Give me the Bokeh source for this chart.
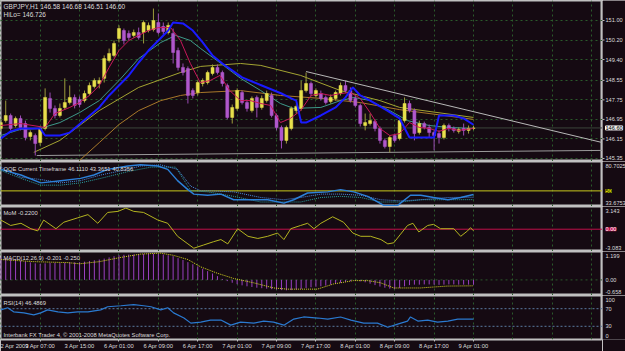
import numpy as np
from bokeh.plotting import figure
from bokeh.layouts import column, row
from bokeh.models import Range1d, FixedTicker, Label, LinearAxis, ColumnDataSource
from bokeh.embed import file_html
from bokeh.resources import INLINE

# ---------------- data ----------------
opens = [146.58,146.90,147.11,146.70,146.99,146.78,146.25,146.29,146.00,146.58,
         147.81,147.40,147.11,147.44,147.64,147.85,147.77,147.72,148.01,148.30,
         148.42,148.63,149.36,149.57,150.26,150.59,150.47,150.39,150.51,150.51,
         150.59,150.63,150.92,150.76,150.51,150.47,149.77,149.08,149.03,148.13,
         148.05,148.42,148.46,148.83,149.08,148.87,148.34,147.03,147.40,148.05,
         147.64,147.31,147.85,147.44,147.72,147.93,147.11,146.62,146.09,146.58,
         147.31,147.40,148.13,148.42,147.93,148.01,147.85,147.68,147.81,148.01,
         148.34,148.13,147.81,147.52,146.70,146.78,146.86,146.58,146.09,145.84,
         146.29,146.17,146.90,147.60,147.31,146.41,146.78,146.62,146.41,146.37,
         146.21,146.70,146.58,146.46,146.58,146.50,146.58]
highs = [146.99,147.72,147.19,147.07,147.11,146.90,146.50,146.37,146.66,148.22,
         148.05,147.52,147.60,148.63,148.34,147.97,147.89,148.13,148.46,148.63,
         148.67,149.57,149.85,150.18,150.80,150.67,150.59,150.63,150.71,151.00,
         150.92,151.49,151.29,150.92,150.92,150.67,149.89,149.24,149.12,148.22,
         148.54,148.63,148.95,149.20,149.20,148.95,148.42,147.56,148.22,148.13,
         147.72,147.89,147.93,147.93,148.13,148.05,147.19,146.70,146.70,147.48,
         147.56,148.54,148.87,148.50,148.22,148.13,147.93,147.97,148.13,148.46,
         148.54,148.26,147.93,147.60,147.19,147.19,146.95,146.66,146.17,146.29,
         146.37,146.99,147.85,147.72,147.40,146.90,146.86,146.74,146.50,146.50,
         146.78,146.78,146.66,146.62,146.78,146.70,146.68]
lows = [146.46,146.82,146.50,146.62,146.50,146.09,146.09,145.47,145.88,146.50,
        147.23,146.99,147.03,147.35,147.56,147.40,147.44,147.64,147.93,148.22,
        148.22,148.46,149.28,149.49,150.10,150.02,150.18,150.30,150.22,150.06,
        150.51,150.55,150.43,150.43,150.43,149.24,148.95,148.75,147.60,147.81,
        147.93,148.30,148.38,148.75,148.79,148.30,146.95,146.78,147.31,147.56,
        147.27,147.23,147.03,147.35,147.64,147.03,146.50,145.76,145.96,146.50,
        147.19,147.31,148.05,147.89,147.85,147.72,147.56,147.60,147.72,147.93,
        148.05,147.64,147.44,146.66,146.50,146.70,146.46,145.96,145.76,145.60,
        146.00,146.09,146.82,147.23,146.09,146.33,146.54,146.21,145.68,145.96,
        146.13,146.46,146.41,146.37,146.29,146.37,146.51]
closes = [146.82,147.11,146.58,146.99,146.62,146.21,146.41,145.96,146.58,147.85,
          147.40,147.11,147.40,147.64,147.85,147.52,147.56,148.01,148.34,148.54,
          148.54,149.44,149.65,150.06,150.67,150.18,150.30,150.51,150.30,150.92,
          150.80,151.00,150.51,150.55,150.80,149.69,149.08,148.87,147.93,147.93,
          148.46,148.54,148.87,149.08,148.87,148.42,147.03,147.44,148.13,147.64,
          147.40,147.81,147.44,147.81,148.01,147.11,146.62,146.09,146.62,147.40,
          147.48,148.13,148.42,148.01,148.13,147.81,147.64,147.85,148.05,148.34,
          148.13,147.72,147.52,146.78,146.82,146.90,146.58,146.09,145.84,146.21,
          146.09,146.90,147.60,147.31,146.37,146.78,146.62,146.41,146.29,146.21,
          146.70,146.58,146.50,146.54,146.50,146.58,146.60]

hilo_x = [0,2,4,8,9,12,14,20,22,24,26,28,30,32,34,35,37,39,41,43,45,49,53,57,59,60,61,62,65,68,70,71.5,73,75,78.5,81,83,88,89,92,94,96]
hilo_v = [146.17,146.46,146.58,146.58,146.29,146.29,146.41,147.44,147.93,148.34,148.75,149.28,149.77,150.18,150.59,150.92,150.88,150.59,150.10,149.57,149.24,148.67,148.34,148.01,147.81,147.72,146.82,146.82,147.11,147.44,147.85,148.26,147.93,147.72,147.31,146.99,146.21,146.21,147.11,147.11,146.99,146.73]
red_x = [0,4,9,11,14,16,18,20,22,24,26,28,30,32,34.5,36.5,38.5,40.5,42.5,44.5,46.5,48.7,50.7,52.8,54.8,56.8,58.8,60.9,63,65,67,69,71,73,75,77,79,81,83,85,87,89,91,93,96]
red_v = [146.70,146.78,146.62,147.19,147.44,147.64,147.93,148.34,149.08,149.77,150.18,150.39,150.59,150.71,150.71,150.18,149.24,148.46,148.54,148.75,148.13,147.72,147.72,147.60,147.52,146.82,146.99,147.31,147.93,148.01,147.93,148.01,148.05,147.81,147.23,146.58,146.29,146.37,146.82,146.62,146.58,146.46,146.58,146.50,146.58]
teal_x = [0,4,8,12,16,20,24,28,32.5,35.5,38.5,40.6,44.7,48.7,52.8,56.8,59.5,65,69,71.7,75,79,82.6,87,91,96]
teal_v = [146.29,146.54,146.58,146.82,147.23,147.72,148.54,149.44,150.10,150.39,150.18,149.85,149.24,148.63,148.13,147.60,147.40,147.44,147.72,147.85,147.72,147.31,146.90,146.70,146.62,146.58]
olive_x = [6.7,12,20,28,36.5,40.6,48.7,52.8,60.9,69,77,81,96]
olive_v = [145.60,146.09,147.31,148.26,148.87,149.12,149.24,149.16,148.75,148.13,147.72,147.44,147.03]
brown_x = [16,20,24,28,32.5,36.5,40.6,48.7,56.8,65,73,81,96]
brown_v = [145.27,146.00,146.74,147.31,147.72,147.93,148.05,148.13,147.93,147.81,147.64,147.35,146.95]
trend_x = [62, 122.2]
trend_v = [148.91, 146.00]
support_x = [7.3, 122.2]
support_v = [145.47, 145.68]
bid_price = 146.60

price_ticks = [151.00, 150.20, 149.40, 148.55, 147.75, 146.95, 146.15, 145.35]
price_labels = ["151.00", "150.20", "149.40", "148.55", "147.75", "146.95", "146.15", "145.35"]

qqe_x = [0,4.1,8.1,12.2,16.2,18.9,21.7,25.8,28.4,31.9,33.9,35.9,38,39.2,42,44.7,47.3,51.4,54.2,57.5,59.5,62.3,66.4,69,71.7,74.5,77.8,80.6,83.2,85.3,87.9,90.8,93.4,96]
qqe_v = [72.47,66.6,58.36,60.71,63.07,66.6,72.47,76.0,77.18,76.0,72.47,60.71,51.31,46.61,45.43,46.61,40.73,40.73,40.73,37.2,40.73,47.78,48.96,51.31,48.96,44.26,34.85,34.85,45.43,45.43,43.08,40.73,43.08,46.11]
qqe2_x = [0,4.1,8.1,12.2,16.2,20.3,25.8,28.4,32.5,35.9,38.6,40.6,42,47.3,52.8,57.5,60.9,65,69,73.1,77.2,81.2,85.3,90.8,96]
qqe2_v = [74.82,64.24,61.89,58.36,60.71,66.6,72.47,76.0,77.18,72.47,54.84,50.13,50.13,48.96,43.08,40.73,43.08,46.61,46.61,45.43,40.73,39.55,40.73,43.08,43.37]
qqe3_x = [0,4.1,8.1,12.2,16.2,20.3,25.8,30.5,35.5,38.6,42,47.3,52.8,57.5,60.9,65,69,73.1,77.2,81.2,85.3,90.8,96]
qqe3_v = [71.3,63.07,56.01,56.01,58.36,63.07,70.12,74.82,74.82,50.13,48.96,44.26,38.38,38.38,38.38,43.08,44.26,43.08,38.38,38.38,40.73,40.73,40.84]

mom_x = [0,2,4.1,6.1,7.5,8.7,11.2,12.8,15.6,17.7,19.7,21.7,23.8,25.4,27,29,31.9,33.9,35.9,38,39.2,41.2,43.2,44.7,46.1,48.1,50.2,52.2,54.2,56.2,57.5,58.9,60.9,62.3,63.6,65,67.4,69.6,71.5,73.1,75.1,77.2,78.6,79.8,81.2,82.6,83.7,84.9,86.7,87.9,89.3,92,93.4,94.8,95.4,96]
mom_v = [1.27,0.52,0.82,0.07,-0.23,1.27,0.07,0.97,1.57,2.02,0.82,2.32,2.47,2.92,2.47,2.32,1.27,0.82,-0.98,-2.03,-2.63,-2.18,-1.73,-1.43,-2.03,0.07,-0.98,-1.28,-0.98,-0.53,-1.43,0.07,0.52,0.82,0.07,0.82,1.72,0.97,-0.53,-0.98,-0.98,-1.43,-2.03,-1.88,-0.68,0.52,0.82,-0.38,0.52,0.67,0.07,0.07,-0.98,-0.23,0.22,-0.22]

macd_main = [0.95,0.93,0.90,0.86,0.82,0.78,0.74,0.70,0.68,0.70,
             0.72,0.72,0.71,0.72,0.74,0.74,0.75,0.77,0.80,0.83,
             0.86,0.90,0.95,1.00,1.04,1.06,1.07,1.07,1.08,1.09,
             1.10,1.10,1.09,1.07,1.04,1.00,0.92,0.84,0.75,0.66,
             0.57,0.47,0.37,0.27,0.16,0.04,-0.05,-0.12,-0.18,-0.23,
             -0.27,-0.30,-0.33,-0.35,-0.37,-0.39,-0.41,-0.43,-0.44,-0.43,
             -0.41,-0.38,-0.34,-0.31,-0.29,-0.27,-0.24,-0.20,-0.16,-0.12,
             -0.08,-0.05,-0.04,-0.06,-0.10,-0.16,-0.22,-0.28,-0.33,-0.37,
             -0.38,-0.34,-0.27,-0.22,-0.20,-0.20,-0.19,-0.19,-0.20,-0.21,
             -0.20,-0.19,-0.19,-0.20,-0.20,-0.20,-0.201]
sig_x = [0,6.7,13.6,16,20,24.4,28.4,32.5,35,38,40.6,44,47.3,51.3,55.4,58.2,62.3,64.3,67.6,71.6,74.5,77.1,79.8,82.6,85.2,87.9,90.7,96]
sig_v = [0.86,0.77,0.73,0.68,0.77,0.95,1.09,1.13,1.04,0.86,0.55,0.28,0.06,-0.12,-0.34,-0.39,-0.39,-0.39,-0.17,-0.03,-0.03,-0.12,-0.34,-0.34,-0.34,-0.30,-0.26,-0.25]

rsi_x = [0,1.4,2.6,4.7,6.7,8.1,9.5,11.6,13.6,15.6,17.7,20.3,21.7,24.4,27,29,30.5,32.5,33.9,35.1,37.2,38.6,40.6,42.6,44.7,46.7,48.7,51.4,53.4,55.4,57.5,59.5,61.5,64.4,66.4,69,71.1,73.7,76.5,78.6,80.6,82.6,83.2,84.7,86.7,88.7,90.8,92.8,96]
rsi_v = [67.4,72.1,62.8,60.5,55.8,60.5,67.4,62.8,60.5,62.8,62.8,67.4,74.4,76.7,79.1,76.7,74.4,67.4,72.1,60.5,48.8,37.2,39.5,44.2,44.2,32.6,39.5,37.2,41.9,39.5,32.6,46.5,51.2,48.8,46.5,51.2,44.2,37.2,37.2,27.9,34.9,41.9,51.2,41.9,44.2,39.5,41.9,46.5,46.49]

time_ticks = [0, 8, 16, 24, 32, 40, 48, 56, 64, 72, 80, 88, 96]
grid_ticks = [0, 8, 16, 24, 32, 40, 48, 56, 64, 72, 80, 88, 96, 104, 112, 120]
time_labels = ["2 Apr 2009", "3 Apr 07:00", "3 Apr 15:00", "6 Apr 01:00", "6 Apr 09:00",
               "6 Apr 17:00", "7 Apr 01:00", "7 Apr 09:00", "7 Apr 17:00", "8 Apr 01:00",
               "8 Apr 09:00", "8 Apr 17:00", "9 Apr 01:00"]

# ---------------- style ----------------
PW = 602      # plotting area width
LW = 23       # right price-scale width
BG = "#150a12"
FRAME = "#c0c0c0"
GRID = "#2b5a2b"
TXT = "#dcdcdc"
FONT = "Liberation Sans"
FS_T = "6.5px"
FS = "5.8px"
FS_R = "5.6px"

xr = Range1d(-0.06, 122.2)


def mkpanel(h, yr, top=0, bottom=0):
    p = figure(width=PW, height=h, x_range=xr, y_range=yr,
               output_backend="svg", toolbar_location=None,
               x_axis_location=None, y_axis_location=None,
               min_border_left=0, min_border_right=0,
               min_border_top=top, min_border_bottom=bottom,
               background_fill_color=BG, border_fill_color=BG,
               outline_line_color=FRAME, outline_line_width=2)
    p.xgrid.ticker = FixedTicker(ticks=grid_ticks)
    p.xgrid.grid_line_color = GRID
    p.xgrid.grid_line_dash = "2 3"
    p.ygrid.visible = False
    return p


def mkscale(h, yr, top=0, bottom=0):
    s = figure(width=LW, height=h, x_range=Range1d(0, LW), y_range=yr,
               output_backend="svg", toolbar_location=None,
               x_axis_location=None, y_axis_location=None,
               min_border_left=0, min_border_right=0,
               min_border_top=top, min_border_bottom=bottom,
               background_fill_color=BG, border_fill_color=BG,
               outline_line_color=None)
    s.xgrid.visible = False
    s.ygrid.visible = False
    return s


def rlabel(s, yv, text, baseline="middle", yoff=0, color=TXT, **kw):
    s.add_layout(Label(x=3, y=yv, text=text, text_font=FONT, text_font_size=FS_R,
                       text_color=color, text_baseline=baseline, y_offset=yoff, **kw))


def tlabel(p, xs, ys, text, size=FS, color=TXT):
    p.add_layout(Label(x=xs, y=ys, x_units="screen", y_units="screen", text=text,
                       text_font=FONT, text_font_size=size, text_color=color,
                       text_baseline="middle"))


# ---------------- main price panel ----------------
yr1 = Range1d(145.226, 151.819)
p1 = mkpanel(161, yr1)
s1 = mkscale(161, yr1)
p1.ygrid.visible = True
p1.ygrid.ticker = FixedTicker(ticks=price_ticks)
p1.ygrid.grid_line_color = GRID
p1.ygrid.grid_line_dash = "2 3"

idx = np.arange(len(opens))
o = np.array(opens); c = np.array(closes); hi = np.array(highs); lo = np.array(lows)
up = c >= o
src_up = ColumnDataSource(dict(x=idx[up], top=c[up], bottom=o[up], h=hi[up], l=lo[up]))
src_dn = ColumnDataSource(dict(x=idx[~up], top=o[~up], bottom=c[~up], h=hi[~up], l=lo[~up]))

p1.line(support_x, support_v, line_color="#9a9a9a", line_width=1)
p1.line([xr.start, xr.end], [bid_price, bid_price], line_color="#3c463c", line_width=1)
p1.line(brown_x, brown_v, line_color="#a8782a", line_width=1)
p1.line(olive_x, olive_v, line_color="#a4a432", line_width=1)
p1.line(teal_x, teal_v, line_color="#3e9a8a", line_width=1)

p1.segment(x0="x", y0="l", x1="x", y1="h", source=src_up, line_color="#9c9c3c", line_width=1)
p1.segment(x0="x", y0="l", x1="x", y1="h", source=src_dn, line_color="#9a4cb4", line_width=1)
p1.vbar(x="x", width=0.62, top="top", bottom="bottom", source=src_up,
        fill_color="#e8e04c", line_color="#e8e04c", line_width=0.5)
p1.vbar(x="x", width=0.62, top="top", bottom="bottom", source=src_dn,
        fill_color="#b058cc", line_color="#b058cc", line_width=0.5)

p1.line(red_x, red_v, line_color="#c8185a", line_width=1)
p1.line(hilo_x, hilo_v, line_color="#1a1aff", line_width=2)
p1.line(trend_x, trend_v, line_color="#b8b8b8", line_width=1)

s1.segment(x0=0, y0=price_ticks, x1=2, y1=price_ticks, line_color=FRAME, line_width=1)
for t, s in zip(price_ticks, price_labels):
    rlabel(s1, t, s)
rlabel(s1, bid_price, "146.60", color="#000000", background_fill_color="#e6e6e6",
       border_line_color="#ffffff", padding=0)
tlabel(p1, 3, 155, "GBPJPY,H1  146.58 146.68 146.51 146.60", size=FS_T)
tlabel(p1, 3, 147, "HiLo= 146.726", size=FS_T)

# ---------------- QQE ----------------
yr2 = Range1d(33.6753, 80.7025)
p2 = mkpanel(45, yr2)
s2 = mkscale(45, yr2)
p2.line([xr.start, xr.end], [50, 50], line_color="#c8c81e", line_width=1)
p2.line(qqe3_x, qqe3_v, line_color="#2aa0a0", line_width=1, line_dash="1 1")
p2.line(qqe2_x, qqe2_v, line_color="#4a8ce0", line_width=1, line_dash="1 1")
p2.line(qqe_x, qqe_v, line_color="#2c80d8", line_width=1.5)
tlabel(p2, 3, 38, "QQE Current Timeframe 46.1110 43.3651 40.8356")
rlabel(s2, 80.7025, "80.7025", baseline="top", yoff=-2)
rlabel(s2, 50, "50", color="#000000", background_fill_color="#d8d800", padding=0)
rlabel(s2, 33.6753, "33.6753", baseline="bottom", yoff=2)

# ---------------- MoM ----------------
yr3 = Range1d(-3.083, 3.143)
p3 = mkpanel(45, yr3)
s3 = mkscale(45, yr3)
p3.line([xr.start, xr.end], [0, 0], line_color="#c0104a", line_width=1)
p3.line(mom_x, mom_v, line_color="#b4b420", line_width=1)
tlabel(p3, 3, 39, "MoM -0.2200")
rlabel(s3, 3.143, "3.143", baseline="top", yoff=-2)
rlabel(s3, 0, "0.00", color="#ffffff", background_fill_color="#c0104a", padding=0)
rlabel(s3, -3.083, "-3.083", baseline="bottom", yoff=2)

# ---------------- MACD ----------------
yr4 = Range1d(-0.658, 1.199)
p4 = mkpanel(44, yr4)
s4 = mkscale(44, yr4)
p4.line([xr.start, xr.end], [0, 0], line_color=GRID, line_width=1, line_dash="2 3")
p4.segment(x0=idx, y0=np.zeros(len(idx)), x1=idx, y1=macd_main, line_color="#9a40c0", line_width=1)
p4.line(sig_x, sig_v, line_color="#d8d820", line_width=1, line_dash="1 1")
tlabel(p4, 3, 38, "MACD(12,26,9) -0.201 -0.250")
rlabel(s4, 1.199, "1.199", baseline="top", yoff=-2)
rlabel(s4, 0, "0.00")
rlabel(s4, -0.658, "-0.658", baseline="bottom", yoff=2)

# ---------------- RSI ----------------
yr5 = Range1d(0, 100)
p5 = mkpanel(56, yr5, top=0, bottom=12)
s5 = mkscale(56, yr5, top=0, bottom=12)
for lv in (70, 30):
    p5.line([xr.start, xr.end], [lv, lv], line_color="#5a7aa0", line_width=1, line_dash="2 2")
p5.line(rsi_x, rsi_v, line_color="#2a7ad0", line_width=1.2)
tlabel(p5, 3, 37, "RSI(14) 46.4869")
tlabel(p5, 3, 5, "Interbank FX Trader 4, \u00a9 2001-2008 MetaQuotes Software Corp.")
rlabel(s5, 100, "100", baseline="top", yoff=-2)
rlabel(s5, 70, "70")
rlabel(s5, 30, "30")
rlabel(s5, 0, "0", baseline="bottom", yoff=2)

xax = LinearAxis(ticker=FixedTicker(ticks=time_ticks),
                 major_label_overrides={t: s for t, s in zip(time_ticks, time_labels)})
xax.axis_line_color = None
xax.major_tick_line_color = FRAME
xax.major_tick_out = 2
xax.major_tick_in = 0
xax.minor_tick_line_color = None
xax.major_label_standoff = 1
xax.major_label_text_align = "left"
xax.major_label_text_font = FONT
xax.major_label_text_font_size = FS
xax.major_label_text_color = TXT
p5.add_layout(xax, "below")

layout = column(row(p1, s1, spacing=0), row(p2, s2, spacing=0), row(p3, s3, spacing=0),
                row(p4, s4, spacing=0), row(p5, s5, spacing=0), spacing=0)
open("out.html", "w").write(file_html(layout, INLINE))
